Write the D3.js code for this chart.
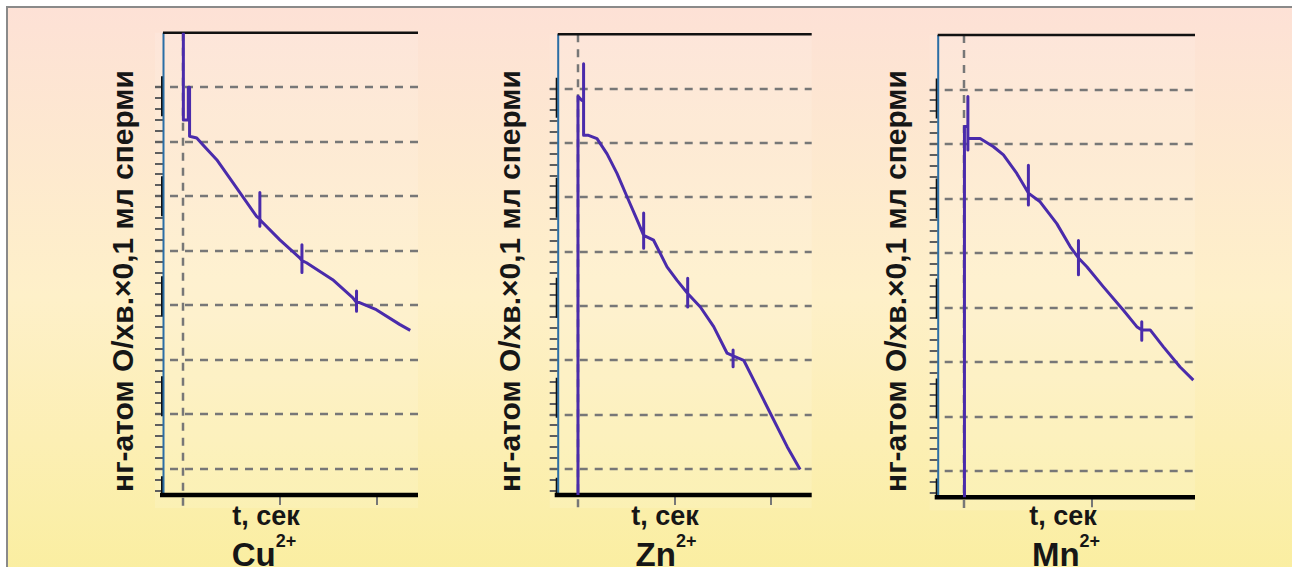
<!DOCTYPE html>
<html>
<head>
<meta charset="utf-8">
<script src="https://cdn.jsdelivr.net/npm/d3@7"></script>
<style>
  body { margin: 0; background: #fff; }
  svg { display: block; }
  text { font-family: "Liberation Sans", Arial, sans-serif; font-weight: bold; fill: #161616; }
</style>
</head>
<body>
<script>
// data (t in tick units, v in gridline units)
const cuT = [0, 0, 0.051, 0.051, 0.064, 0.064, 0.138, 0.203, 0.344, 0.511, 0.755, 0.789, 0.789, 0.789, 0.789, 0.80, 0.995, 1.20, 1.223, 1.223, 1.223, 1.223, 1.27, 1.54, 1.746, 1.786, 1.786, 1.786, 1.786, 1.817, 1.99, 2.23, 2.34];
const cuV = [9.0, 7.40, 7.40, 8.0, 8.0, 7.10, 7.07, 6.94, 6.67, 6.25, 5.63, 5.58, 6.07, 5.45, 5.58, 5.55, 5.20, 4.87, 4.82, 5.11, 4.60, 4.82, 4.78, 4.47, 4.14, 4.05, 4.26, 3.89, 4.05, 4.05, 3.92, 3.65, 3.54];

const znT = [0, 0, 0.041, 0.058, 0.058, 0.058, 0.109, 0.197, 0.301, 0.404, 0.508, 0.611, 0.680, 0.680, 0.680, 0.680, 0.783, 0.922, 1.026, 1.136, 1.136, 1.136, 1.136, 1.267, 1.405, 1.544, 1.606, 1.606, 1.606, 1.606, 1.716, 1.855, 1.993, 2.166, 2.30];
const znV = [0.52, 7.86, 7.78, 7.78, 8.46, 7.14, 7.14, 7.08, 6.80, 6.44, 6.01, 5.59, 5.30, 5.71, 5.06, 5.30, 5.21, 4.72, 4.47, 4.23, 4.51, 3.98, 4.23, 3.98, 3.62, 3.13, 3.08, 3.19, 2.88, 3.08, 3.00, 2.51, 2.02, 1.41, 0.99];

const mnT = [0, 0, 0.027, 0.027, 0.027, 0.027, 0.045, 0.123, 0.228, 0.306, 0.411, 0.502, 0.502, 0.502, 0.502, 0.594, 0.725, 0.830, 0.895, 0.895, 0.895, 0.895, 0.961, 1.091, 1.248, 1.353, 1.392, 1.392, 1.392, 1.392, 1.458, 1.562, 1.693, 1.797];
const mnV = [0.52, 7.32, 7.32, 7.87, 6.89, 7.10, 7.10, 7.10, 6.95, 6.80, 6.46, 6.10, 6.61, 5.88, 6.10, 5.94, 5.54, 5.12, 4.91, 5.23, 4.60, 4.91, 4.75, 4.38, 3.95, 3.65, 3.59, 3.74, 3.40, 3.59, 3.59, 3.28, 2.91, 2.67];

const gridValues = [1, 2, 3, 4, 5, 6, 7, 8];
const minorTicks = d3.range(3, 41).map(k => k / 5);   // 0.6 .. 8.0
const xTickValues = [0, 1, 2];
const ions = ["Cu", "Zn", "Mn"];
const yLabel = "нг-атом О/хв.×0,1 мл сперми";
const xLabel = "t, сек";

const width = 1292, height = 567;

const panels = [
  { ion: ions[0], t: cuT, v: cuV, left: 163, right: 418, top: 32.7, bottom: 495, tMax: 2.42, labelX: 122, xlX: 266, ttX: 264 },
  { ion: ions[1], t: znT, v: znV, left: 557.7, right: 811.7, top: 34.3, bottom: 495, tMax: 2.42, labelX: 509, xlX: 665, ttX: 666 },
  { ion: ions[2], t: mnT, v: mnV, left: 937.7, right: 1195, top: 35, bottom: 497.3, tMax: 1.81, labelX: 895, xlX: 1063, ttX: 1066 }
];

const svg = d3.select('body').append('svg')
  .attr('width', width)
  .attr('height', height);

const defs = svg.append('defs');
const grad = defs.append('linearGradient')
  .attr('id', 'bg').attr('x1', 0).attr('y1', 0).attr('x2', 0).attr('y2', 1);
grad.append('stop').attr('offset', '0%').attr('stop-color', '#fde1d6');
grad.append('stop').attr('offset', '50%').attr('stop-color', '#fef0c9');
grad.append('stop').attr('offset', '100%').attr('stop-color', '#faee9f');

// frame
svg.append('rect')
  .attr('x', 7).attr('y', 7)
  .attr('width', width + 10).attr('height', height + 10)
  .attr('fill', 'url(#bg)')
  .attr('stroke', '#8a8a8a')
  .attr('stroke-width', 2);

const dash = '8,7';

panels.forEach(p => {
  const x = d3.scaleLinear().domain([-0.21, p.tMax]).range([p.left, p.right]);
  const y = d3.scaleLinear().domain([0.52, 9]).range([p.bottom, p.top]);
  const g = svg.append('g');

  // lighter plot field
  g.append('rect')
    .attr('x', p.left - 8).attr('y', p.top)
    .attr('width', p.right - p.left + 8).attr('height', p.bottom - p.top + 13)
    .attr('fill', '#fff').attr('opacity', 0.12);

  // dashed horizontal grid
  g.selectAll('.grid').data(gridValues).join('line')
    .attr('x1', p.left - 8).attr('x2', p.right)
    .attr('y1', d => Math.round(y(d))).attr('y2', d => Math.round(y(d)))
    .attr('stroke', '#777').attr('stroke-width', 2.5)
    .attr('stroke-dasharray', dash);

  // minor ticks on the left axis
  g.selectAll('.minor').data(minorTicks).join('line')
    .attr('x1', p.left - 8).attr('x2', p.left)
    .attr('y1', d => Math.round(y(d))).attr('y2', d => Math.round(y(d)))
    .attr('stroke', '#5e5e5e').attr('stroke-width', 2);

  // vertical dashed line at t = 0
  const x0 = Math.round(x(0));
  g.append('line')
    .attr('x1', x0).attr('x2', x0)
    .attr('y1', p.top).attr('y2', p.bottom + 13)
    .attr('stroke', '#777').attr('stroke-width', 2.5)
    .attr('stroke-dasharray', dash);

  // x ticks
  g.selectAll('.xt').data(xTickValues.filter(d => d > 0 && x(d) < p.right)).join('line')
    .attr('x1', d => Math.round(x(d))).attr('x2', d => Math.round(x(d)))
    .attr('y1', p.bottom).attr('y2', p.bottom + 10)
    .attr('stroke', '#777').attr('stroke-width', 2);

  // left axis: black under blue
  g.append('line')
    .attr('x1', p.left - 1).attr('x2', p.left - 1)
    .attr('y1', y(8.2)).attr('y2', p.bottom)
    .attr('stroke', '#111').attr('stroke-width', 2)
    .attr('stroke-dasharray', '40,60');
  g.append('line')
    .attr('x1', p.left + 0.5).attr('x2', p.left + 0.5)
    .attr('y1', p.top).attr('y2', p.bottom)
    .attr('stroke', '#2b6ea6').attr('stroke-width', 2);

  // top border
  g.append('line')
    .attr('x1', p.left).attr('x2', p.right)
    .attr('y1', p.top).attr('y2', p.top)
    .attr('stroke', '#111').attr('stroke-width', 2.5);

  // bottom axis
  g.append('line')
    .attr('x1', p.left - 3).attr('x2', p.right)
    .attr('y1', p.bottom).attr('y2', p.bottom)
    .attr('stroke', '#000').attr('stroke-width', 4.5);

  // curve
  const pts = p.t.map((t, i) => [t, p.v[i]]);
  g.append('path')
    .datum(pts)
    .attr('d', d3.line().x(d => x(d[0])).y(d => y(d[1])))
    .attr('fill', 'none')
    .attr('stroke', '#4a2bab')
    .attr('stroke-width', 3)
    .attr('stroke-linejoin', 'round');

  // y label
  const yl = g.append('text')
    .attr('transform', `translate(${p.labelX},${281}) rotate(-90)`)
    .attr('text-anchor', 'middle')
    .attr('dominant-baseline', 'central')
    .style('font-size', '24px')
    .text(yLabel);
  const len = yl.node().getComputedTextLength();
  yl.style('font-size', (24 * 422 / len) + 'px');

  // x label
  g.append('text')
    .attr('x', p.xlX).attr('y', 525)
    .attr('text-anchor', 'middle')
    .style('font-size', '27px')
    .text(xLabel);

  // ion title with superscript
  const tt = g.append('text')
    .attr('x', p.ttX).attr('y', 566)
    .attr('text-anchor', 'middle')
    .style('font-size', '33px');
  tt.append('tspan').text(p.ion);
  tt.append('tspan').attr('dy', -19).style('font-size', '18px').text('2+');
});
</script>
</body>
</html>
